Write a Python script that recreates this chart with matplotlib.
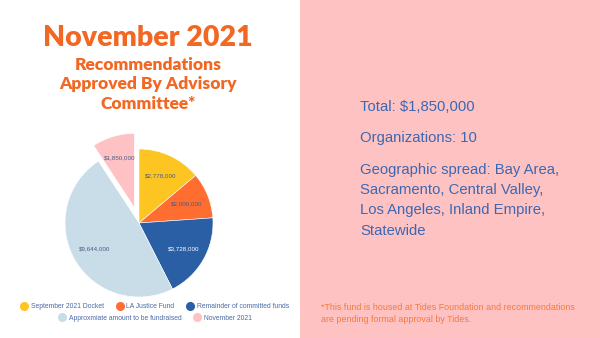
import matplotlib.pyplot as plt
from matplotlib.lines import Line2D
from matplotlib.patches import Rectangle

# data
categories = ['September 2021 Docket', 'LA Justice Fund', 'Remainder of committed funds',
              'Approxmiate amount to be fundraised', 'November 2021']
amounts = [2778000, 2000000, 3728000, 9644000, 1850000]
colors = ['#fdc521', '#ff6d31', '#2a5fa5', '#c9dde9', '#ffc2c4']
label_colors = ['#4a5a85', '#4a5a85', 'white', '#4a5a85', '#4a5a85']

title = 'November 2021'
subtitle = ['Recommendations', 'Approved By Advisory', 'Committee*']
facts = ['Total: $1,850,000', 'Organizations: 10',
         'Geographic spread: Bay Area,', 'Sacramento, Central Valley,',
         'Los Angeles, Inland Empire,', 'Statewide']
footnote = ['*This fund is housed at Tides Foundation and recommendations',
            'are pending formal approval by Tides.']

orange = '#f26722'
blue = '#3c68b1'
W, H = 600, 338

fig = plt.figure(figsize=(6, 3.38), dpi=100)
fig.patch.set_facecolor('white')
fig.patches.append(Rectangle((0.5, 0), 0.5, 1, transform=fig.transFigure,
                             facecolor='#ffc2c3', edgecolor='none', zorder=0))

def fy(px):
    return 1 - px / H

# titles
fig.text(148 / W, fy(38), title, ha='center', va='center', color=orange,
         fontsize=20.5, fontweight='heavy', family='Lato')
for i, line in enumerate(subtitle):
    fig.text(148 / W, fy(65 + i * 19.5), line, ha='center', va='center', color=orange,
             fontsize=12.5, fontweight='heavy', family='Lato')

# right side text
fact_y = [107, 138, 170, 190, 210, 231]
for y, line in zip(fact_y, facts):
    fig.text(360 / W, fy(y), line, ha='left', va='center', color=blue,
             fontsize=10.7, family='Liberation Sans')
for i, line in enumerate(footnote):
    fig.text(321 / W, fy(307 + i * 12), line, ha='left', va='center', color='#f47a3a',
             fontsize=6.4, family='Liberation Sans')

# pie
R = 74
cx, cy = 139, 223
size = 2.6 * R
ax = fig.add_axes([(cx - size / 2) / W, (H - cy - size / 2) / H, size / W, size / H])
explode = [0, 0, 0, 0, 0.22]
wedges, texts = ax.pie(amounts, colors=colors, startangle=90, counterclock=False,
                       explode=explode, labels=[f'${a:,}' for a in amounts],
                       labeldistance=0.7,
                       wedgeprops=dict(edgecolor='white', linewidth=0.4))
for t, c in zip(texts, label_colors):
    t.set_ha('center')
    t.set_va('center')
    t.set_color(c)
    t.set_fontsize(4.5)
    t.set_family('Liberation Sans')
ax.set_xlim(-1.3, 1.3)
ax.set_ylim(-1.3, 1.3)
ax.axis('off')

# legend in two rows
handles = [Line2D([], [], marker='o', linestyle='none', markersize=5.5,
                  markerfacecolor=c, markeredgecolor=c) for c in colors]
leg_props = dict(frameon=False, handletextpad=0.5, columnspacing=1.8,
                 handlelength=1.0, prop={'family': 'Liberation Sans', 'size': 4.9},
                 labelcolor='#4a6aa5', loc='center')
fig.legend(handles[:3], categories[:3], ncol=3,
           bbox_to_anchor=(155 / W, fy(307)), **leg_props)
fig.legend(handles[3:], categories[3:], ncol=2,
           bbox_to_anchor=(155 / W, fy(318)), **leg_props)

fig.savefig('out.png', dpi=100)
